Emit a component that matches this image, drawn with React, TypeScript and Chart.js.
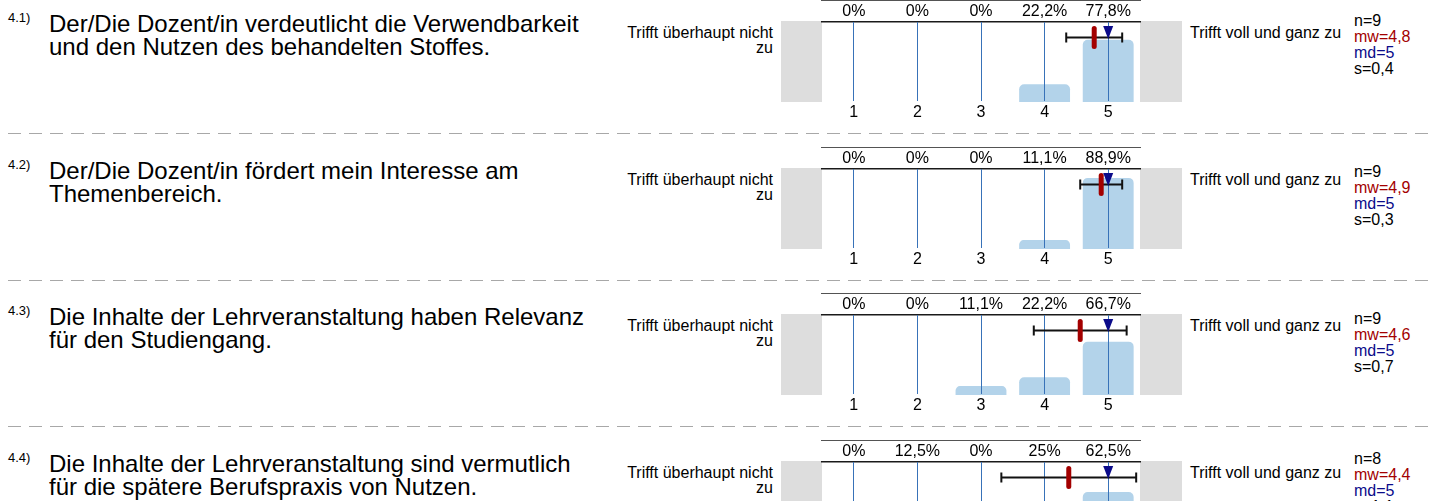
import React, { useEffect, useRef } from 'react';
import { Chart, registerables } from 'chart.js';

Chart.register(...registerables);

const FONT = '"Liberation Sans", Arial, Helvetica, sans-serif';

// ---------------- data ----------------
const questionNumbers = ['4.1)', '4.2)', '4.3)', '4.4)'];
const questionLines = [
  ['Der/Die Dozent/in verdeutlicht die Verwendbarkeit', 'und den Nutzen des behandelten Stoffes.'],
  ['Der/Die Dozent/in fördert mein Interesse am', 'Themenbereich.'],
  ['Die Inhalte der Lehrveranstaltung haben Relevanz', 'für den Studiengang.'],
  ['Die Inhalte der Lehrveranstaltung sind vermutlich', 'für die spätere Berufspraxis von Nutzen.'],
];
const scaleLabels = ['1', '2', '3', '4', '5'];
const percentQ1 = [0, 0, 0, 22.2, 77.8];
const percentQ2 = [0, 0, 0, 11.1, 88.9];
const percentQ3 = [0, 0, 11.1, 22.2, 66.7];
const percentQ4 = [0, 12.5, 0, 25, 62.5];
const percentSeries = [percentQ1, percentQ2, percentQ3, percentQ4];
const nValues = [9, 9, 9, 8];
const meanValues = [4.78, 4.89, 4.56, 4.38];
const medianValues = [5, 5, 5, 5];
const sdValues = [0.44, 0.33, 0.73, 1.06];
const leftPoleLines = ['Trifft überhaupt nicht', 'zu'];
const rightPole = 'Trifft voll und ganz zu';

// ---------------- layout / style ----------------
const rowOffsets = [0, 147, 293, 440];
const statsBaseline = [26, 30, 31, 24];
const BAR = '#b3d3ea';
const GRID = '#3872b8';
const LINE = '#1a1a1a';
const GRAY = '#dddddd';
const MEAN_C = '#a30000';
const MED_C = '#0b0b8a';

const fmt = (v: number, d: number) => v.toFixed(d).replace('.', ',');
const fmtPct = (v: number) => (v === 0 ? '0' : String(v).replace('.', ',')) + '%';

function Txt(props: { x: number; baseline: number; size: number; color?: string; align?: 'left' | 'right'; children: any }) {
  const { x, baseline, size, color = '#000', align = 'left', children } = props;
  const lh = Math.round(size * 1.2);
  const top = baseline - size * 0.905 - (lh - size * 1.117) / 2;
  const style: any = {
    position: 'absolute',
    top,
    fontSize: size,
    lineHeight: lh + 'px',
    fontFamily: FONT,
    color,
    whiteSpace: 'nowrap',
  };
  if (align === 'right') style.right = 1431 - x;
  else style.left = x;
  return <div style={style}>{children}</div>;
}

function RowChart(props: { idx: number }) {
  const { idx } = props;
  const ref = useRef<HTMLCanvasElement | null>(null);
  useEffect(() => {
    const percents = percentSeries[idx];
    const mean = meanValues[idx];
    const median = medianValues[idx];
    const sd = sdValues[idx];
    const markerPlugin = {
      id: 'markers' + idx,
      beforeDraw(chart: any) {
        const { ctx, chartArea } = chart;
        ctx.save();
        ctx.fillStyle = GRAY;
        ctx.fillRect(chartArea.left - 41, chartArea.top - 1, 41, chartArea.bottom - chartArea.top + 1);
        ctx.fillRect(chartArea.right, chartArea.top - 1, 42, chartArea.bottom - chartArea.top + 1);
        ctx.restore();
      },
      afterDraw(chart: any) {
        const { ctx, chartArea } = chart;
        const xs = chart.scales.x;
        const y = chartArea.top + 15.5;
        const xl = xs.getPixelForValue(mean - sd - 1);
        const xr = xs.getPixelForValue(mean + sd - 1);
        const xm = xs.getPixelForValue(mean - 1);
        const xd = xs.getPixelForValue(median - 1);
        ctx.save();
        ctx.strokeStyle = '#111';
        ctx.lineWidth = 2;
        ctx.beginPath();
        ctx.moveTo(xl, y);
        ctx.lineTo(xr, y);
        ctx.moveTo(xl, y - 5);
        ctx.lineTo(xl, y + 5);
        ctx.moveTo(xr, y - 5);
        ctx.lineTo(xr, y + 5);
        ctx.stroke();
        // mean marker
        ctx.fillStyle = MEAN_C;
        ctx.beginPath();
        (ctx as any).roundRect(xm - 2.5, y - 11.5, 5, 23, 2.5);
        ctx.fill();
        // median triangle
        ctx.fillStyle = MED_C;
        ctx.beginPath();
        ctx.moveTo(xd - 5, chartArea.top + 4);
        ctx.lineTo(xd + 5, chartArea.top + 4);
        ctx.lineTo(xd, chartArea.top + 17);
        ctx.closePath();
        ctx.fill();
        ctx.restore();
      },
    };
    const tickFont = { family: FONT, size: 16 };
    const chart = new Chart(ref.current as HTMLCanvasElement, {
      type: 'bar',
      data: {
        labels: scaleLabels,
        datasets: [
          {
            data: percents,
            backgroundColor: BAR,
            borderWidth: 0,
            borderRadius: 5,
            barPercentage: 1,
            categoryPercentage: 0.8,
          },
        ],
      },
      options: {
        responsive: false,
        maintainAspectRatio: false,
        animation: false,
        layout: { padding: { left: 52, right: 50, top: 0, bottom: 0 } },
        plugins: { legend: { display: false }, tooltip: { enabled: false } },
        scales: {
          x: {
            type: 'category',
            position: 'bottom',
            offset: true,
            grid: { offset: false, color: GRID, lineWidth: 1, drawTicks: false, z: 1 },
            border: { display: true, color: LINE, width: 1.5 },
            ticks: { color: '#000', font: tickFont, padding: 1, maxRotation: 0, autoSkip: false },
            afterFit: (s: any) => {
              s.height = 24;
            },
          },
          x2: {
            type: 'category',
            position: 'top',
            offset: true,
            labels: percents.map(fmtPct),
            grid: { display: false, drawTicks: false },
            border: { display: true, color: LINE, width: 1.5 },
            ticks: { color: '#000', font: tickFont, padding: 1, maxRotation: 0, autoSkip: false },
            afterFit: (s: any) => {
              s.height = 22;
            },
          },
          y: { display: false, min: 0, max: 100 },
        },
      } as any,
      plugins: [markerPlugin],
    });
    return () => chart.destroy();
  }, [idx]);
  return (
    <canvas
      ref={ref}
      width={420}
      height={126}
      style={{ position: 'absolute', left: 770, top: rowOffsets[idx], width: 420, height: 126 }}
    />
  );
}

function Row(props: { idx: number }) {
  const { idx } = props;
  const oy = rowOffsets[idx];
  const sb = oy + statsBaseline[idx];
  return (
    <>
      <Txt x={8} baseline={oy + 23} size={13}>{questionNumbers[idx]}</Txt>
      <Txt x={49} baseline={oy + 32} size={24}>{questionLines[idx][0]}</Txt>
      <Txt x={49} baseline={oy + 55} size={24}>{questionLines[idx][1]}</Txt>
      <Txt x={773} baseline={oy + 38} size={16} align="right">{leftPoleLines[0]}</Txt>
      <Txt x={773} baseline={oy + 53.5} size={16} align="right">{leftPoleLines[1]}</Txt>
      <RowChart idx={idx} />
      <Txt x={1190} baseline={oy + 38} size={16}>{rightPole}</Txt>
      <Txt x={1354} baseline={sb} size={16}>{'n=' + nValues[idx]}</Txt>
      <Txt x={1354} baseline={sb + 16} size={16} color={MEAN_C}>{'mw=' + fmt(meanValues[idx], 1)}</Txt>
      <Txt x={1354} baseline={sb + 32} size={16} color={MED_C}>{'md=' + medianValues[idx]}</Txt>
      <Txt x={1354} baseline={sb + 48} size={16}>{'s=' + fmt(sdValues[idx], 1)}</Txt>
      <div
        style={{
          position: 'absolute',
          left: 8,
          right: 0,
          top: oy + 133,
          height: 1,
          background: 'repeating-linear-gradient(to right, #a8a8a8 0px, #a8a8a8 13px, transparent 13px, transparent 21px)',
        }}
      />
    </>
  );
}

export default function App() {
  return (
    <div
      style={{
        position: 'absolute',
        left: 0,
        top: 0,
        width: 1431,
        height: 501,
        overflow: 'hidden',
        background: '#fff',
      }}
    >
      {questionNumbers.map((_, i) => (
        <Row key={i} idx={i} />
      ))}
    </div>
  );
}
